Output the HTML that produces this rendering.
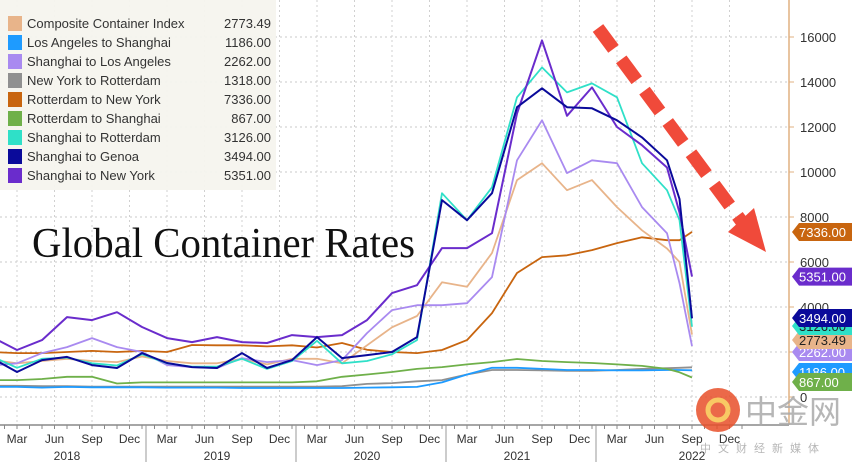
<!DOCTYPE html>
<html><head><meta charset="utf-8"><style>
html,body{margin:0;padding:0;background:#fff;width:852px;height:462px;overflow:hidden}
svg{display:block;font-family:"Liberation Sans",sans-serif}
</style></head><body>
<svg id="chart" width="852" height="462" viewBox="0 0 852 462">
<rect x="0" y="0" width="852" height="462" fill="#fff"/>
<g id="grid"></g>
<text x="32" y="257" font-family="Liberation Serif,serif" font-size="42" textLength="383" lengthAdjust="spacingAndGlyphs" fill="#111">Global Container Rates</text>
<g id="series"></g>
<g id="legend"></g>
<g id="axes"></g>
<g>
<line x1="598" y1="28" x2="742" y2="222" stroke="#f04a3a" stroke-width="13" stroke-dasharray="26,13"/>
<polygon points="728,232 766,252 754,208" fill="#f04a3a"/>
</g>
<g opacity="0.85">
<circle cx="718" cy="410" r="22" fill="#e8502a"/>
<circle cx="718" cy="410" r="10" fill="none" stroke="#f7c04a" stroke-width="5"/>
<text x="745" y="423" font-family="Noto Sans CJK SC,sans-serif" font-size="32" fill="#aaa">中金网</text>
<text x="700" y="452" font-family="Noto Sans CJK SC,sans-serif" font-size="11" fill="#aaa" letter-spacing="7">中文财经新媒体</text>
</g>
</svg>
<script>
const months=[0,2,4,6,8,10,12,14,16,18,20,22,24,26,28,30,32,34,36,38,40,42,44,46,48,50,52,54,55,56];
const seriesNames=["Composite Container Index","Los Angeles to Shanghai","Shanghai to Los Angeles","New York to Rotterdam","Rotterdam to New York","Rotterdam to Shanghai","Shanghai to Rotterdam","Shanghai to Genoa","Shanghai to New York"];
const lastValues=["2773.49","1186.00","2262.00","1318.00","7336.00","867.00","3126.00","3494.00","5351.00"];
const composite=[1650,1500,1600,1700,1600,1550,1800,1600,1500,1500,1700,1450,1700,1700,1500,2300,3100,3600,5100,4900,6400,9640,10390,9190,9640,8440,7410,6600,6000,2773];
const laSh=[450,450,420,450,430,430,430,420,420,420,400,400,400,400,400,420,430,450,650,1000,1300,1300,1250,1200,1200,1180,1180,1200,1200,1186];
const shLa=[1400,1500,1950,2220,2620,2220,2000,1420,1330,1290,1730,1550,1640,1420,1640,2840,3860,4080,4080,4170,5330,10520,12300,9950,10520,10390,8440,7280,5060,2262];
const nyRot=[500,500,480,480,460,460,460,460,460,460,460,460,460,460,480,580,620,700,750,1000,1200,1200,1180,1160,1160,1200,1250,1280,1300,1318];
const rotNy=[2000,1950,1950,2000,2050,2000,2050,2000,2310,2300,2300,2250,2300,2200,2400,2100,2000,1950,2090,2530,3730,5510,6220,6300,6530,6840,7100,6970,6970,7336];
const rotSh=[750,750,800,900,900,600,650,650,650,650,650,650,650,700,900,1000,1110,1250,1330,1450,1550,1690,1600,1550,1510,1450,1380,1250,1100,867];
const shRot=[1800,1300,1700,1750,1500,1400,1900,1500,1350,1350,1700,1250,1600,2500,1500,1600,1900,2530,9060,7860,9320,13320,14650,13540,13940,13320,10390,9190,7860,3126];
const shGenoa=[1730,1110,1640,1780,1420,1290,1950,1510,1330,1290,1950,1290,1640,2660,1730,1860,2000,2660,8750,7860,9060,12880,13720,12880,12830,12300,11540,10520,8800,3494];
const shNy=[2660,2090,2530,3550,3420,3770,3110,2620,2440,2660,2440,2400,2750,2660,2750,3420,4620,4970,6620,6620,7280,12600,15850,12500,13760,12000,11190,10200,8200,5351];
const yTicks=[0,2000,4000,6000,8000,10000,12000,14000,16000];
const monthLabels=["Mar","Jun","Sep","Dec"];
const tickMonths=[2,5,8,11,14,17,20,23,26,29,32,35,38,41,44,47,50,53,56,59];
const years=["2018","2019","2020","2021","2022"];

const colors=["#e8b48a","#1e9bff","#a98af0","#909090","#c8650f","#6fb04a","#2fe0c8","#0a0a9a","#6a2ccc"];
const data=[composite,laSh,shLa,nyRot,rotNy,rotSh,shRot,shGenoa,shNy];
const NS="http://www.w3.org/2000/svg";
const plotRight=789, axisY=425;
function xs(m){return -8+12.5*m;}
function ys(v){return 397-v*45/2000;}
function mk(tag,attrs,parent){const e=document.createElementNS(NS,tag);for(const k in attrs)e.setAttribute(k,attrs[k]);parent.appendChild(e);return e;}

const grid=document.getElementById('grid');
yTicks.forEach(v=>{
  const l=mk('line',{x1:0,x2:plotRight,y1:ys(v),y2:ys(v),stroke:'#c8c8c8','stroke-dasharray':'2,3'},grid);
  
  
});
tickMonths.forEach(m=>{
  const l=mk('line',{x1:xs(m),x2:xs(m),y1:0,y2:axisY,stroke:'#d0d0d0','stroke-dasharray':'2,3'},grid);
  
  
});

const sg=document.getElementById('series');
const order=[3,1,5,4,0,2,6,8,7];
order.forEach(i=>{
  const pts=data[i].map((v,j)=>xs(months[j]).toFixed(1)+','+ys(v).toFixed(1)).join(' ');
  const p=mk('polyline',{points:pts,fill:'none',stroke:colors[i],'stroke-width':i===7||i===8?2:1.8,'stroke-linejoin':'round'},sg);
  
  
});

const lg=document.getElementById('legend');
const bg=mk('rect',{x:0,y:0,width:276,height:190,fill:'#f6f4ee',opacity:0.95},lg);


seriesNames.forEach((n,i)=>{
  const y=23+i*19;
  const g=mk('g',{},lg);
  
  
  mk('rect',{x:8,y:y-7,width:14,height:15,fill:colors[i]},g);
  const t=mk('text',{x:27,y:y+5,'font-size':13,fill:'#333'},g);t.textContent=n;
  const t2=mk('text',{x:271,y:y+5,'font-size':13,fill:'#333','text-anchor':'end'},g);t2.textContent=lastValues[i];
});

const ax=document.getElementById('axes');
const ra=mk('line',{x1:plotRight,x2:plotRight,y1:0,y2:axisY,stroke:'#e0b080','stroke-width':1.5},ax);


const ba=mk('line',{x1:0,x2:plotRight,y1:axisY,y2:axisY,stroke:'#888','stroke-width':1.5},ax);


yTicks.forEach(v=>{
  mk('line',{x1:plotRight,x2:plotRight+5,y1:ys(v),y2:ys(v),stroke:'#e0b080'},ax);
  const t=mk('text',{x:plotRight+11,y:ys(v)+5,'font-size':13,fill:'#333'},ax);
  t.textContent=v;
  
  
});
for(let m=1;m<=60;m++){mk('line',{x1:xs(m),x2:xs(m),y1:axisY,y2:axisY+4,stroke:'#888'},ax);}
tickMonths.forEach((m,k)=>{
  const t=mk('text',{x:xs(m),y:443,'font-size':12,fill:'#333','text-anchor':'middle'},ax);
  t.textContent=monthLabels[k%4];
  
  
});
years.forEach((y,k)=>{
  const m0=12*k, m1=12*k+12;
  const cx=k===4?xs(m0+8):(xs(m0)+xs(m1))/2;
  const t=mk('text',{x:cx,y:460,'font-size':12,fill:'#333','text-anchor':'middle'},ax);
  t.textContent=y;
  
  
  if(k>0)mk('line',{x1:xs(m0)+4,x2:xs(m0)+4,y1:axisY,y2:462,stroke:'#999'},ax);
});
// value tags
const tagOrder=[1,5,2,0,6,7,8,4];
const tagY={4:ys(7336),8:ys(5351),7:318,6:326,0:340,2:352,1:372,5:382};
tagOrder.forEach(i=>{
  const y=tagY[i];
  const g=mk('g',{},ax);
  
  
  mk('polygon',{points:`${plotRight+3},${y} ${plotRight+10},${y-9} 852,${y-9} 852,${y+9} ${plotRight+10},${y+9}`,fill:colors[i]},g);
  const t=mk('text',{x:plotRight+10,y:y+5,'font-size':13,fill:(i===0||i===6)?'#222':'#fff'},g);
  t.textContent=lastValues[i];
});
</script>
</body></html>
